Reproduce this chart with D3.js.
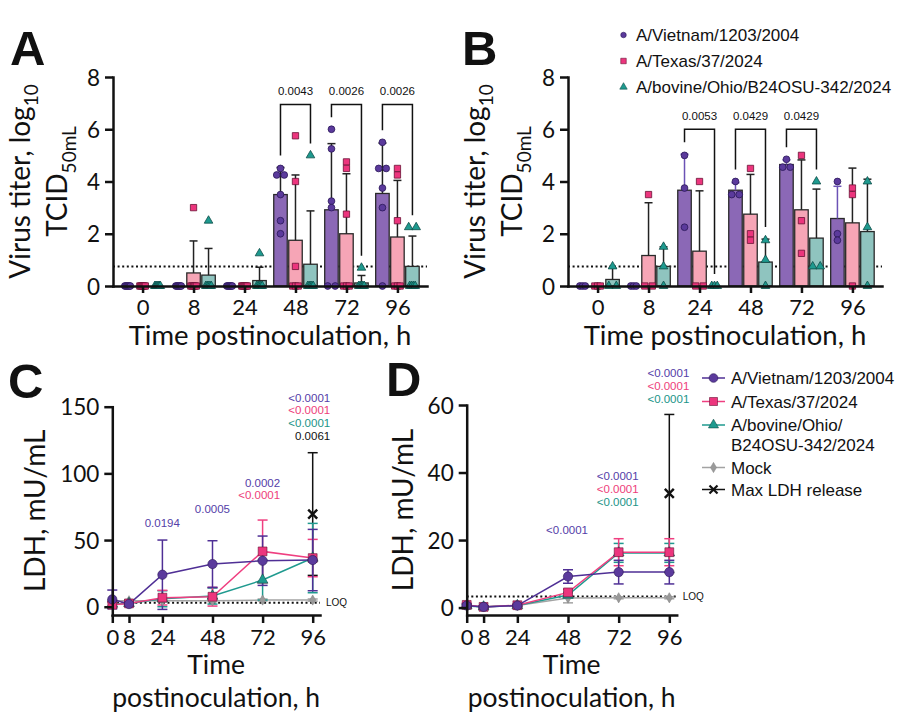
<!DOCTYPE html>
<html><head><meta charset="utf-8">
<script src="https://cdn.jsdelivr.net/npm/d3@7"></script>
<style>body{margin:0;background:#fff}svg{display:block}</style>
</head><body>
<svg id="c" width="900" height="721"></svg>
<script>
// ---------------- DATA ----------------
const timepoints = [0, 8, 24, 48, 72, 96];
const timeLabels = ["0", "8", "24", "48", "72", "96"];
const seriesNames = ["A/Vietnam/1203/2004", "A/Texas/37/2024", "A/bovine/Ohio/B24OSU-342/2024"];
const titerTicks = [0, 2, 4, 6, 8];
const titerLOD = 0.75;

// Panel A: individual virus titers (log10 TCID50/mL), 6 per time point
const titerA_vietnam = [[0,0,0,0,0,0],[0,0,0,0,0,0],[0,0,0,0,0,0],[4.5,4.25,4.25,3.5,2.5,2.0],[6.0,5.25,3.25,3.0,0,0],[5.5,4.5,4.5,3.75,3.0,0]];
const titerA_texas   = [[0,0,0,0,0,0],[3.0,0,0,0,0,0],[0,0,0,0,0,0],[5.75,4.0,0.75,0,0,0],[4.75,4.5,2.75,0,0,0],[4.5,4.25,2.5,0,0,0]];
const titerA_bovine  = [[0,0,0,0,0,0],[2.5,0,0,0,0,0],[1.25,0,0,0,0,0],[5.0,0,0,0,0,0],[0.7,0,0,0,0,0],[2.25,2.25,0,0,0,0]];

// Panel B: individual virus titers, 3 per time point
const titerB_vietnam = [[0,0,0],[0,0,0],[5.0,3.75,2.25],[4.0,3.5,3.5],[4.85,4.55,4.55],[4.0,2.0,1.75]];
const titerB_texas   = [[0,0,0],[3.5,0,0],[4.0,0,0],[4.5,2.0,1.75],[5.0,2.5,1.25],[3.75,3.5,0]];
const titerB_bovine  = [[0.75,0,0],[1.5,0.75,0],[0,0,0],[1.75,1.0,0],[4.0,0.75,0.75],[4.0,2.25,0]];

// Significance brackets (Vietnam vs bovine)
const pvalA = [{time:"48", p:"0.0043"}, {time:"72", p:"0.0026"}, {time:"96", p:"0.0026"}];
const pvalB = [{time:"24", p:"0.0053"}, {time:"48", p:"0.0429"}, {time:"72", p:"0.0429"}];
const bracketLevelA = 6.95, bracketLevelB = 6.0;

// Panel C: LDH (mU/mL) mean and SD
const ldhTicksC = [0, 50, 100, 150];
const ldhC_vietnam = [5.5, 2.0, 24, 32, 34.5, 35];
const ldhC_vietnam_sd = [7, 1.5, 26, 17.5, 18.5, 23];
const ldhC_texas = [1.5, 2.5, 6.8, 7.5, 41.5, 36.5];
const ldhC_texas_sd = [2, 2, 5.5, 7, 23.5, 14];
const ldhC_bovine = [2.0, 2.5, 6, 8, 20, 36.5];
const ldhC_bovine_sd = [2, 2, 6, 6, 15, 26];
const ldhC_mock = [4.5, 4.5, 4.5, 4.5, 5, 5];
const ldhC_mock_sd = [0.8, 0.8, 0.8, 0.8, 0.8, 0.8];
const ldhC_max = [69.5];
const ldhC_max_sd = [46];
const ldhC_loq = 3;
const annotC = [
  {time: 24, level: 60, lines: [["0.0194","v"]]},
  {time: 48, level: 70, lines: [["0.0005","v"]]},
  {time: 72, level: 80.5, lines: [["0.0002","v"],["<0.0001","t"]]},
  {time: 96, level: 125, lines: [["<0.0001","v"],["<0.0001","t"],["<0.0001","b"],["0.0061","x"]]}
];

// Panel D: LDH (mU/mL) mean and SD
const ldhTicksD = [0, 20, 40, 60];
const ldhD_vietnam = [0.6, 0.2, 0.6, 9.2, 10.5, 10.5];
const ldhD_vietnam_sd = [0.5, 0.3, 0.3, 2.0, 3.5, 3.5];
const ldhD_texas = [0.8, 0.2, 0.7, 4.5, 16.4, 16.4];
const ldhD_texas_sd = [0.5, 0.3, 0.3, 0.9, 4.0, 4.0];
const ldhD_bovine = [0.5, 0.2, 0.6, 3.7, 16.2, 16.2];
const ldhD_bovine_sd = [0.4, 0.3, 0.3, 0.8, 2.8, 2.8];
const ldhD_mock = [0.5, 0.3, 0.6, 2.8, 2.9, 2.9];
const ldhD_mock_sd = [0.2, 0.2, 0.2, 1.4, 0.3, 0.3];
const ldhD_max = [33.8];
const ldhD_max_sd = [23.4];
const ldhD_loq = 3.3;
const annotD = [
  {time: 48, level: 21.8, lines: [["<0.0001","v"]]},
  {time: 72, level: 30.2, lines: [["<0.0001","v"],["<0.0001","t"],["<0.0001","b"]]},
  {time: 96, level: 60.6, lines: [["<0.0001","v"],["<0.0001","t"],["<0.0001","b"]]}
];
const legendLDH = ["A/Vietnam/1203/2004", "A/Texas/37/2024", ["A/bovine/Ohio/", "B24OSU-342/2024"], "Mock", "Max LDH release"];

// ---------------- STYLE ----------------
const FA = "Lato, 'Open Sans', sans-serif";
const FR = "'Liberation Sans', Arial, sans-serif";
const INK = "#111";
const ST = {
  v: {bar:"#8b68b6", dot:"#5b3a9c", dotStroke:"#2b1858", line:"#4f2f95", err:"#6b52b5", text:"#5440a8", shape:d3.symbolCircle},
  t: {bar:"#f6a5b6", dot:"#ec357d", dotStroke:"#6a1235", line:"#ef3f80", err:"#ef3f80", text:"#ee3d7a", shape:d3.symbolSquare},
  b: {bar:"#8fc4bf", dot:"#1e9a8f", dotStroke:"#0d4d47", line:"#1f9a8f", err:"#1f9a8f", text:"#1b9488", shape:d3.symbolTriangle},
  m: {dot:"#9a9a9a", line:"#a3a3a3", shape:d3.symbolDiamond},
  x: {text:"#111"}
};
const keys = ["v","t","b"];

const svg = d3.select("#c");

function styleAxis(sel, fs) {
  sel.select(".domain").attr("stroke", INK).attr("stroke-width", 2.5).attr("stroke-linecap","square");
  sel.selectAll(".tick line").attr("stroke", INK).attr("stroke-width", 2.5);
  sel.selectAll(".tick text").attr("font-family", FA).attr("font-size", fs).attr("fill", INK);
}

function sym(shape, size) { return d3.symbol().type(shape).size(size)(); }

// ---------------- BAR PANELS (A, B) ----------------
function barPanel(o) {
  const W = 314;
  const g = svg.append("g");
  const x = d3.scalePoint().domain(timeLabels).range([o.x0, o.x0 + W]).padding(0.58);
  const y = d3.scaleLinear().domain([0, 8]).range([286, 77]);

  // LOD dotted line
  g.append("line").attr("x1", o.x0).attr("x2", o.x0 + W)
    .attr("y1", y(titerLOD)).attr("y2", y(titerLOD))
    .attr("stroke", INK).attr("stroke-width", 2).attr("stroke-dasharray", "2,2.6");

  const stats = o.data.map(series => series.map(v => ({m: d3.mean(v), sd: d3.deviation(v) || 0, max: d3.max(v)})));

  o.data.forEach((series, si) => {
    const s = ST[keys[si]];
    const off = (si - 1) * 15;
    series.forEach((vals, ti) => {
      const cx = x(timeLabels[ti]) + off;
      const {m, sd} = stats[si][ti];
      g.append("rect").attr("x", cx - 6.75).attr("width", 13.5)
        .attr("y", y(m)).attr("height", y(0) - y(m))
        .attr("fill", s.bar).attr("stroke", "#2a2a2a").attr("stroke-width", 1.3);
      if (sd > 0) {
        const ec = (si === 0 && o.purpleErr) ? s.err : "#222";
        g.append("line").attr("x1", cx).attr("x2", cx).attr("y1", y(m)).attr("y2", y(m + sd))
          .attr("stroke", ec).attr("stroke-width", 1.5);
        g.append("line").attr("x1", cx - 4).attr("x2", cx + 4).attr("y1", y(m + sd)).attr("y2", y(m + sd))
          .attr("stroke", ec).attr("stroke-width", 1.5);
      }
    });
  });

  // individual points
  const sizes = [36, 40, 32];
  o.data.forEach((series, si) => {
    const s = ST[keys[si]];
    const off = (si - 1) * 15;
    series.forEach((vals, ti) => {
      const cx = x(timeLabels[ti]) + off;
      const groups = d3.group(vals, v => v);
      groups.forEach((arr, v) => {
        const n = arr.length;
        const step = n === 1 ? 0 : (n === 2 ? 7.5 : 5.5 / (n - 1));
        arr.forEach((_, k) => {
          const dx = (k - (n - 1) / 2) * step;
          g.append("path").attr("d", sym(s.shape, sizes[si]))
            .attr("transform", `translate(${cx + dx},${y(v)})`)
            .attr("fill", s.dot).attr("stroke", s.dotStroke).attr("stroke-width", 0.8);
        });
      });
    });
  });

  // brackets
  o.pvals.forEach(p => {
    const ti = timeLabels.indexOf(p.time);
    const xl = x(p.time) - 15, xr = x(p.time) + 15;
    const top = y(o.bracketLevel);
    const sl = stats[0][ti], sr = stats[2][ti];
    const yl = y(Math.max(sl.max, sl.m + sl.sd)) - 12;
    const yr = y(Math.max(sr.max, sr.m + sr.sd)) - 12;
    g.append("path").attr("d", `M${xl},${yl}V${top}H${xr}V${yr}`)
      .attr("fill", "none").attr("stroke", INK).attr("stroke-width", 1.5);
    g.append("text").attr("x", (xl + xr) / 2).attr("y", top - 9).attr("text-anchor", "middle")
      .attr("font-family", FR).attr("font-size", 11.5).attr("fill", INK).text(p.p);
  });

  // axes
  const ya = g.append("g").attr("transform", `translate(${o.x0},0)`)
    .call(d3.axisLeft(y).tickValues(titerTicks).tickSize(8).tickSizeOuter(0).tickPadding(5));
  styleAxis(ya, 22.5);
  ya.selectAll(".tick text").attr("dy", "0.36em");
  const xa = g.append("g").attr("transform", `translate(0,${y(0)})`)
    .call(d3.axisBottom(x).tickSize(7).tickSizeOuter(0));
  styleAxis(xa, 22);
  xa.selectAll(".tick text").attr("y", 29).attr("dy", 0);

  // titles
  g.append("text").attr("x", o.x0 + W / 2).attr("y", 345).attr("text-anchor", "middle")
    .attr("font-family", FA).attr("font-size", 27.5).attr("fill", INK).text("Time postinoculation, h");
  const cy = (y(0) + y(8)) / 2;
  const t1 = g.append("text").attr("transform", `translate(${o.x0 - 83},${cy}) rotate(-90)`)
    .attr("text-anchor", "middle").attr("font-family", FA).attr("font-size", 28).attr("fill", INK);
  t1.append("tspan").text("Virus titer, log");
  t1.append("tspan").attr("font-size", 19).attr("dy", 8).text("10");
  const t2 = g.append("text").attr("transform", `translate(${o.x0 - 46},${cy}) rotate(-90)`)
    .attr("text-anchor", "middle").attr("font-family", FA).attr("font-size", 28).attr("fill", INK);
  t2.append("tspan").text("TCID");
  t2.append("tspan").attr("font-size", 19).attr("dy", 9).text("50mL");

  g.append("text").attr("x", o.lx).attr("y", 65).attr("font-family", FR).attr("font-weight", "bold")
    .attr("font-size", 49).attr("fill", INK).text(o.letter);
}

barPanel({x0: 113, letter: "A", lx: 10, data: [titerA_vietnam, titerA_texas, titerA_bovine], pvals: pvalA, bracketLevel: bracketLevelA, purpleErr: false});
barPanel({x0: 568, letter: "B", lx: 462, data: [titerB_vietnam, titerB_texas, titerB_bovine], pvals: pvalB, bracketLevel: bracketLevelB, purpleErr: true});

// legend for A/B
{
  const g = svg.append("g");
  const rows = [35, 61, 87];
  const sizes = [24, 30, 24];
  seriesNames.forEach((n, i) => {
    const s = ST[keys[i]];
    g.append("path").attr("d", sym(s.shape, sizes[i])).attr("transform", `translate(623.5,${rows[i]})`)
      .attr("fill", s.dot).attr("stroke", s.dotStroke).attr("stroke-width", 0.6);
    g.append("text").attr("x", 636).attr("y", rows[i]).attr("dy", "0.36em")
      .attr("font-family", FR).attr("font-size", 17).attr("fill", INK).text(n);
  });
}

// ---------------- LINE PANELS (C, D) ----------------
function linePanel(o) {
  const g = svg.append("g");
  const x = d3.scaleLinear().domain([0, 99.5]).range([o.x0, o.x1]);
  const y = d3.scaleLinear().domain([o.ymin, o.ymax]).range([615, o.ytop]);

  // LOQ
  g.append("line").attr("x1", o.x0).attr("x2", o.x1).attr("y1", y(o.loq)).attr("y2", y(o.loq))
    .attr("stroke", INK).attr("stroke-width", 2).attr("stroke-dasharray", "2,2.6");
  g.append("text").attr("x", o.x1 + 6).attr("y", y(o.loq)).attr("dy", "0.36em")
    .attr("font-family", FR).attr("font-size", 10).attr("fill", INK).text("LOQ");

  // Max LDH release (96 h only)
  {
    const cx = x(96), m = o.maxRel[0], sd = o.maxSd[0];
    g.append("line").attr("x1", cx).attr("x2", cx).attr("y1", y(m - sd)).attr("y2", y(m + sd)).attr("stroke", INK).attr("stroke-width", 1.5);
    [m - sd, m + sd].forEach(v => g.append("line").attr("x1", cx - 5).attr("x2", cx + 5).attr("y1", y(v)).attr("y2", y(v)).attr("stroke", INK).attr("stroke-width", 1.5));
    g.append("path").attr("d", "M-4.5,-4.5L4.5,4.5M-4.5,4.5L4.5,-4.5").attr("transform", `translate(${cx},${y(m)})`)
      .attr("stroke", INK).attr("stroke-width", 2.4).attr("fill", "none");
  }

  const order = [
    {vals: o.mock, sd: o.mockSd, s: ST.m, size: 30, stroke: "#888"},
    {vals: o.series[2], sd: o.sds[2], s: ST.b, size: 50, stroke: ST.b.dotStroke},
    {vals: o.series[1], sd: o.sds[1], s: ST.t, size: 78, stroke: ST.t.dotStroke},
    {vals: o.series[0], sd: o.sds[0], s: ST.v, size: 68, stroke: ST.v.dotStroke}
  ];
  const line = d3.line().x((d, i) => x(timepoints[i])).y(d => y(d));
  order.forEach(sr => {
    g.append("path").attr("d", line(sr.vals)).attr("fill", "none").attr("stroke", sr.s.line).attr("stroke-width", 1.5);
    sr.vals.forEach((m, i) => {
      const cx = x(timepoints[i]), sd = sr.sd[i];
      g.append("line").attr("x1", cx).attr("x2", cx).attr("y1", y(m - sd)).attr("y2", y(m + sd)).attr("stroke", sr.s.line).attr("stroke-width", 1.5);
      [m - sd, m + sd].forEach(v => g.append("line").attr("x1", cx - 5).attr("x2", cx + 5).attr("y1", y(v)).attr("y2", y(v)).attr("stroke", sr.s.line).attr("stroke-width", 1.5));
    });
  });
  order.forEach(sr => {
    sr.vals.forEach((m, i) => {
      g.append("path").attr("d", sym(sr.s.shape, sr.size)).attr("transform", `translate(${x(timepoints[i])},${y(m)})`)
        .attr("fill", sr.s.dot).attr("stroke", sr.stroke).attr("stroke-width", 0.6);
    });
  });

  // annotations
  o.annots.forEach(a => {
    const n = a.lines.length;
    a.lines.forEach((l, k) => {
      g.append("text").attr("x", x(a.time) + o.annotOff).attr("y", y(a.level) - (n - 1 - k) * 12.8)
        .attr("text-anchor", "end").attr("font-family", FR).attr("font-size", 11.5)
        .attr("fill", ST[l[1]].text).text(l[0]);
    });
  });

  // axes
  const ya = g.append("g").attr("transform", `translate(${o.x0},0)`)
    .call(d3.axisLeft(y).tickValues(o.ticks).tickSize(8).tickSizeOuter(0).tickPadding(5));
  styleAxis(ya, 22.5);
  ya.selectAll(".tick text").attr("dy", "0.36em");
  const xa = g.append("g").attr("transform", `translate(0,615)`)
    .call(d3.axisBottom(x).tickValues(timepoints).tickSize(8).tickSizeOuter(0));
  styleAxis(xa, 22);
  xa.selectAll(".tick text").attr("y", 30).attr("dy", 0);

  const mid = (o.x0 + o.x1) / 2;
  g.append("text").attr("x", mid).attr("y", 674).attr("text-anchor", "middle").attr("font-family", FA).attr("font-size", 26.5).attr("fill", INK).text("Time");
  g.append("text").attr("x", mid).attr("y", 707).attr("text-anchor", "middle").attr("font-family", FA).attr("font-size", 26.5).attr("fill", INK).text("postinoculation, h");
  g.append("text").attr("transform", `translate(${o.titleX},${(615 + o.ytop) / 2}) rotate(-90)`)
    .attr("text-anchor", "middle").attr("font-family", FA).attr("font-size", 28).attr("fill", INK).text("LDH, mU/mL");

  g.append("text").attr("x", o.lx).attr("y", o.ly).attr("font-family", FR).attr("font-weight", "bold")
    .attr("font-size", 49).attr("fill", INK).text(o.letter);
}

linePanel({x0: 112.3, x1: 320, ymin: -6.2, ymax: 150, ytop: 406.7, ticks: ldhTicksC, loq: ldhC_loq,
  series: [ldhC_vietnam, ldhC_texas, ldhC_bovine], sds: [ldhC_vietnam_sd, ldhC_texas_sd, ldhC_bovine_sd],
  mock: ldhC_mock, mockSd: ldhC_mock_sd, maxRel: ldhC_max, maxSd: ldhC_max_sd, annots: annotC, annotOff: 17.5,
  titleX: 45, letter: "C", lx: 8, ly: 398});
linePanel({x0: 466.7, x1: 676.7, ymin: -2.2, ymax: 60, ytop: 405, ticks: ldhTicksD, loq: ldhD_loq,
  series: [ldhD_vietnam, ldhD_texas, ldhD_bovine], sds: [ldhD_vietnam_sd, ldhD_texas_sd, ldhD_bovine_sd],
  mock: ldhD_mock, mockSd: ldhD_mock_sd, maxRel: ldhD_max, maxSd: ldhD_max_sd, annots: annotD, annotOff: 20,
  titleX: 413, letter: "D", lx: 386, ly: 396});

// legend for C/D
{
  const g = svg.append("g");
  const ys = [378, 401.5, 425, 467.5, 489.5];
  const items = [
    {s: ST.v, size: 60, stroke: ST.v.dotStroke},
    {s: ST.t, size: 64, stroke: ST.t.dotStroke},
    {s: ST.b, size: 44, stroke: ST.b.dotStroke},
    {s: ST.m, size: 30, stroke: "#888"},
    {cross: true}
  ];
  legendLDH.forEach((lab, i) => {
    const it = items[i], yy = ys[i];
    const lc = it.cross ? INK : it.s.line;
    g.append("line").attr("x1", 702).attr("x2", 725).attr("y1", yy).attr("y2", yy).attr("stroke", lc).attr("stroke-width", 1.5);
    if (it.cross) {
      g.append("path").attr("d", "M-4,-4L4,4M-4,4L4,-4").attr("transform", `translate(713.5,${yy})`).attr("stroke", INK).attr("stroke-width", 2.2);
    } else {
      g.append("path").attr("d", sym(it.s.shape, it.size)).attr("transform", `translate(713.5,${yy})`)
        .attr("fill", it.s.dot).attr("stroke", it.stroke).attr("stroke-width", 0.6);
    }
    const t = g.append("text").attr("x", 731).attr("y", yy).attr("dy", "0.36em").attr("font-family", FR).attr("font-size", 17).attr("fill", INK);
    if (Array.isArray(lab)) {
      t.append("tspan").attr("x", 731).text(lab[0]);
      t.append("tspan").attr("x", 731).attr("dy", 19.5).text(lab[1]);
    } else t.text(lab);
  });
}
</script>
</body></html>
